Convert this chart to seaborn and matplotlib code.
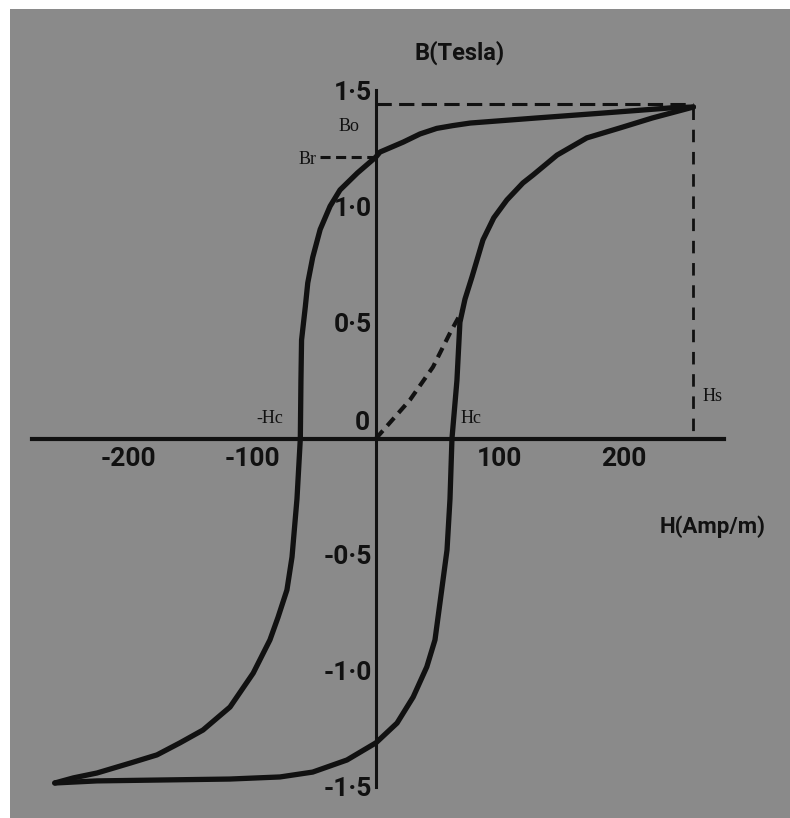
import matplotlib
matplotlib.use("Agg")
import matplotlib.pyplot as plt
from matplotlib.patches import Rectangle
import seaborn as sns

# Descending branch of the B-H loop (from +saturation to -saturation)
desc_H = [256, 237, 183, 130, 76, 62, 49, 35.5, 22, 3.2, 0, -15, -29, -37,
          -45, -51, -55, -57, -60, -60.5, -61, -63.7, -67.7, -71.8, -79,
          -85.5, -99, -117.7, -139.5, -158, -176.6, -198, -225, -244, -259]
desc_B = [1.427, 1.423, 1.401, 1.38, 1.358, 1.347, 1.335, 1.311, 1.276, 1.233,
          1.212, 1.143, 1.07, 1.0, 0.9, 0.78, 0.67, 0.566, 0.424, 0.25, 0.0,
          -0.26, -0.51, -0.652, -0.77, -0.867, -1.01, -1.156, -1.255, -1.31,
          -1.362, -1.397, -1.44, -1.461, -1.483]

# Ascending branch (from -saturation back to +saturation)
asc_H = [-259, -225, -172, -118, -77.4, -51, -23.4, 0, 17, 30, 41, 47.6, 53,
         57.3, 59.7, 61.3, 65.3, 67.7, 71.8, 77.4, 86.3, 95, 105.6, 118.5,
         126.6, 146, 170, 196.8, 223, 256]
asc_B = [-1.483, -1.474, -1.47, -1.466, -1.457, -1.436, -1.384, -1.31, -1.225,
         -1.113, -0.983, -0.867, -0.652, -0.48, -0.26, 0.0, 0.25, 0.5, 0.6,
         0.695, 0.855, 0.95, 1.027, 1.1, 1.134, 1.22, 1.294, 1.337, 1.38,
         1.427]

# Initial magnetisation curve from the demagnetised state
init_H = [0, 27.4, 46, 59.7, 69.5]
init_B = [0, 0.166, 0.308, 0.454, 0.55]

# Characteristic values
H_s = 256
B_o = 1.44
B_r = 1.212
H_br_start = -45

x_ticks = [-200, -100, 100, 200]
x_tick_labels = ["-200", "-100", "100", "200"]
y_ticks = [-1.5, -1.0, -0.5, 0.5, 1.0, 1.5]
y_tick_labels = ["-1\u00b75", "-1\u00b70", "-0\u00b75", "0\u00b75", "1\u00b70", "1\u00b75"]

sns.set_style("white")
plt.rcParams["font.family"] = ["Roboto", "DejaVu Sans"]

INK = "#111111"
PAPER = "#8a8a8a"

fig = plt.figure(figsize=(7.9, 8.18), dpi=100, facecolor="white")
fig.patches.append(Rectangle((10 / 790, 0), 780 / 790, 809 / 818,
                             transform=fig.transFigure, facecolor=PAPER,
                             edgecolor="none", zorder=-10))
ax = fig.add_axes([0, 0, 1, 1])
ax.set_facecolor("none")
ax.set_zorder(5)
ax.set_xlim(-303.2, 333.9)
ax.set_ylim(-1.6337, 1.8877)

# Axes drawn through the origin
for side in ("top", "right"):
    ax.spines[side].set_visible(False)
ax.spines["left"].set_position(("data", 0))
ax.spines["bottom"].set_position(("data", 0))
ax.spines["left"].set_bounds(-1.5, 1.5)
ax.spines["bottom"].set_bounds(-277, 281)
ax.spines["left"].set_linewidth(2.2)
ax.spines["bottom"].set_linewidth(3.0)
ax.spines["left"].set_color(INK)
ax.spines["bottom"].set_color(INK)

ax.set_xticks(x_ticks)
ax.set_xticklabels(x_tick_labels)
ax.set_yticks(y_ticks)
ax.set_yticklabels(y_tick_labels)
ax.tick_params(axis="x", direction="in", length=17, width=2.2, color=INK,
               pad=6, labelsize=19, labelcolor=INK)
ax.tick_params(axis="y", direction="in", length=12, width=2.2, color=INK,
               pad=3, labelsize=19, labelcolor=INK)
for lab in ax.get_xticklabels() + ax.get_yticklabels():
    lab.set_fontweight("bold")

# Hysteresis loop
sns.lineplot(x=desc_H, y=desc_B, sort=False, estimator=None, ax=ax,
             color=INK, linewidth=3.8, solid_capstyle="round",
             solid_joinstyle="round")
sns.lineplot(x=asc_H, y=asc_B, sort=False, estimator=None, ax=ax,
             color=INK, linewidth=3.8, solid_capstyle="round",
             solid_joinstyle="round")
sns.lineplot(x=init_H, y=init_B, sort=False, estimator=None, ax=ax,
             color=INK, linewidth=3.0, linestyle=(0, (2.5, 1.6)))

# Guide lines for saturation and remanence
sns.lineplot(x=[0, H_s], y=[B_o, B_o], sort=False, estimator=None, ax=ax,
             color=INK, linewidth=2.2, linestyle=(0, (5, 2.4)))
sns.lineplot(x=[H_s, H_s], y=[1.427, 0], sort=False, estimator=None, ax=ax,
             color=INK, linewidth=2.0, linestyle=(0, (4.5, 3.5)))
sns.lineplot(x=[H_br_start, 0], y=[B_r, B_r], sort=False, estimator=None,
             ax=ax, color=INK, linewidth=2.2, linestyle=(0, (3.3, 1.8)))

# Axis titles
ax.text(67.7, 1.66, "B(Tesla)", fontsize=17, fontweight="bold", color=INK,
        ha="center", va="center")
ax.text(271.8, -0.38, "H(Amp/m)", fontsize=16, fontweight="bold", color=INK,
        ha="center", va="center")
ax.text(-11.3, 0.067, "0", fontsize=19, fontweight="bold", color=INK,
        ha="center", va="center")

# Point labels
serif = ["Liberation Serif", "DejaVu Serif"]
for x, y, s in [(-21.8, 1.341, "Bo"), (-55.6, 1.199, "Br"),
                (-85.5, 0.088, "-Hc"), (76.6, 0.088, "Hc"),
                (271.8, 0.179, "Hs")]:
    ax.text(x, y, s, fontsize=13, family=serif, color=INK,
            ha="center", va="center")

ax.set_xlabel("")
ax.set_ylabel("")
fig.savefig("out.png", dpi=100, facecolor="white")
